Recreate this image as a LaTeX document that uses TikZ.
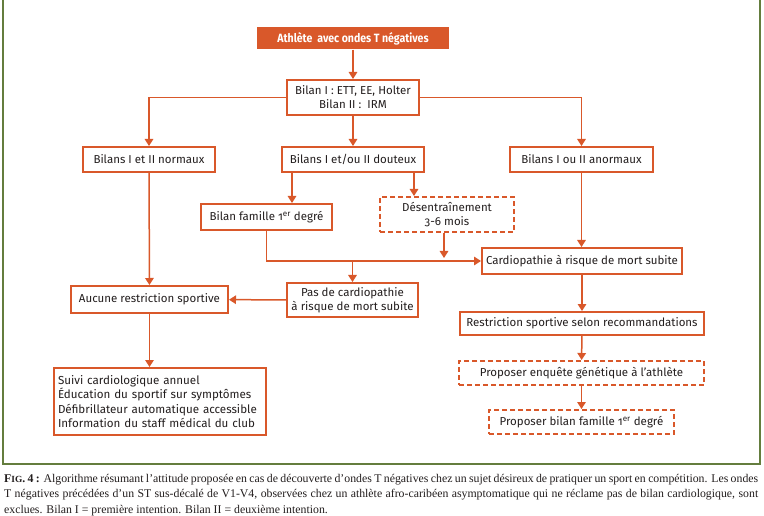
\documentclass[tikz,border=0pt]{standalone}
\usepackage{fontspec}
\setmainfont{Liberation Serif}
\newfontfamily\boxfont[Numbers=OldStyle]{Fira Sans}
\usetikzlibrary{arrows.meta}
\definecolor{orng}{RGB}{217,88,42}
\definecolor{frame}{RGB}{100,125,62}
\definecolor{txt}{RGB}{35,30,30}
\tikzset{
  box/.style={draw=orng, line width=2pt, fill=white, inner sep=0pt, align=center,
    font=\boxfont\fontsize{11.5}{14}\selectfont, text=txt},
  dbox/.style={box, dash pattern=on 5pt off 3pt},
  topbox/.style={fill=orng, inner sep=0pt, text=white, font=\boxfont\bfseries\fontsize{12}{14}\selectfont},
  arr/.style={draw=orng, line width=1.5pt, -{Triangle[length=7pt,width=8.5pt]}},
  captxt/.style={anchor=base west, inner sep=0pt, font=\fontsize{11.8}{13}\selectfont, text=txt}
}
\begin{document}
\begin{tikzpicture}[x=1pt,y=-1pt]
\clip (0,0) rectangle (764,516);
\useasboundingbox (0,0) rectangle (764,516);
\fill[white] (0,0) rectangle (764,516);
\draw[frame, line width=2.2pt] (3,-1) rectangle (760,464);

\node[topbox, minimum width=192pt, minimum height=22pt] (top) at (353,38.5) {\scalebox{0.88}[1]{Athlète\ \ avec ondes T négatives}};
\node[box, minimum width=132pt, minimum height=35pt] (bilan) at (353,97.5) {Bilan I : ETT, EE, Holter\\Bilan II :\ \ IRM};
\node[box, minimum width=132pt, minimum height=25pt] (norm) at (149,159.5) {Bilans I et II normaux};
\node[box, minimum width=142pt, minimum height=25pt] (dout) at (353,159.5) {Bilans I et/ou II douteux};
\node[box, minimum width=143pt, minimum height=25pt] (anorm) at (581.5,159.5) {Bilans I ou II anormaux};
\node[box, minimum width=131pt, minimum height=26pt] (fam) at (266.5,217) {Bilan famille 1\textsuperscript{er} degré};
\node[dbox, minimum width=134pt, minimum height=35pt] (desent) at (447,214.5) {Désentraînement\\3-6 mois};
\node[box, minimum width=200pt, minimum height=26pt] (cardio) at (582,261) {Cardiopathie à risque de mort subite};
\node[box, minimum width=131pt, minimum height=34pt] (pas) at (352.5,300) {Pas de cardiopathie\\à risque de mort subite};
\node[box, minimum width=157pt, minimum height=27pt] (aucune) at (149.5,299.5) {Aucune restriction sportive};
\node[box, minimum width=244pt, minimum height=23pt] (restr) at (582,323.5) {Restriction sportive selon recommandations};
\node[dbox, minimum width=245pt, minimum height=24pt] (enq) at (581.5,373) {Proposer enquête génétique à l’athlète};
\node[dbox, minimum width=185pt, minimum height=24pt] (bfam) at (581.5,422) {Proposer bilan famille 1\textsuperscript{er} degré};
\node[box, minimum width=212pt, minimum height=67pt, align=left, text width=204pt,
      font=\boxfont\fontsize{11.6}{14.3}\selectfont] (suivi) at (160,401.5)
  {Suivi cardiologique annuel\\Éducation du sportif sur symptômes\\Défibrillateur automatique accessible\\Information du staff médical du club};

\coordinate (d1) at (292,0);
\coordinate (d2) at (414,0);
\coordinate (d3) at (444,0);
\coordinate (j) at (444,258);

\draw[arr] (top) -- (bilan);
\draw[arr] (bilan.west) -| (norm.north);
\draw[arr] (bilan.east) -| (anorm.north);
\draw[arr] (bilan) -- (dout);
\draw[arr] (dout.south -| d1) -- (fam.north -| d1);
\draw[arr] (dout.south -| d2) -- (desent.north -| d2);
\draw[arr] (desent.south -| d3) -- (j);
\draw[arr] (fam.south) |- (cardio.west);
\draw[arr] (pas.north |- cardio.west) -- (pas.north);
\draw[arr] (pas) -- (aucune);
\draw[arr] (norm) -- (aucune);
\draw[arr] (aucune.south) -- (aucune.south |- suivi.north);
\draw[arr] (anorm.south) -- (anorm.south |- cardio.north);
\draw[arr] (cardio) -- (restr);
\draw[arr] (restr) -- (enq);
\draw[arr] (enq) -- (bfam);

\node[captxt] (c1) at (4,482) {\makebox[754pt][s]{\textbf{F{\fontsize{9.4}{10}\selectfont IG}. 4 :} Algorithme résumant l’attitude proposée en cas de découverte d’ondes T négatives chez un sujet désireux de pratiquer un sport en compétition. Les ondes}};
\node[captxt] (c2) at (4,497.5) {\makebox[754pt][s]{T négatives précédées d’un ST sus-décalé de V1-V4, observées chez un athlète afro-caribéen asymptomatique qui ne réclame pas de bilan cardiologique, sont}};
\node[captxt] (c3) at (4,513) {exclues. Bilan I = première intention. Bilan II = deuxième intention.};
\end{tikzpicture}
\end{document}
